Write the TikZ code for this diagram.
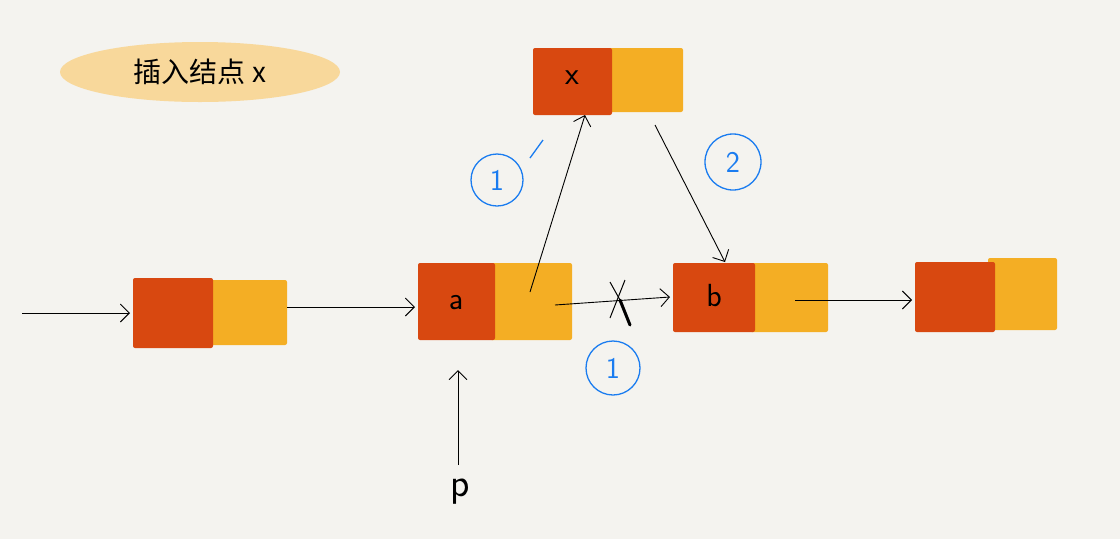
\documentclass[tikz,border=0pt]{standalone}
\usepackage{fontspec}
\usetikzlibrary{arrows.meta}
\newfontfamily\cjk{Noto Sans CJK SC}
\begin{document}
\begin{tikzpicture}[x=1pt,y=-1pt,
 red/.style={fill=redc,draw=none,rounded corners=2pt},
 org/.style={fill=orgc,draw=none,rounded corners=2pt},
 arr/.style={-{Straight Barb[length=9pt]},line width=0.9pt},
 lab/.style={font=\sffamily\fontsize{32}{36}\selectfont},
 blue/.style={draw=bluec,line width=1.3pt,circle,text=bluec,font=\sffamily\fontsize{30}{34}\selectfont}]
\definecolor{redc}{HTML}{D84810}
\definecolor{orgc}{HTML}{F4AE24}
\definecolor{bluec}{HTML}{1A7CF0}
\definecolor{bgc}{HTML}{F4F3EF}
\fill[bgc] (0,0) rectangle (1120,539);
\useasboundingbox (0,0) rectangle (1120,539);
\fill[orgc!55,opacity=0.8] (200,72) ellipse (140 and 30);
\node[font=\cjk\fontsize{28}{32}\selectfont] (title) at (200,72) {插入结点 \textit{x}};
% node1
\fill[org] (208,280) rectangle (287,345);
\fill[red] (133,278) rectangle (213,348);
% node a
\fill[org] (490,263) rectangle (572,340);
\fill[red] (418,263) rectangle (495,340);
\node[lab] (a) at (456,303) {a};
\coordinate (aN) at (530,292);
\coordinate (aE) at (555,305);
% node x
\fill[org] (608,48) rectangle (683,112);
\fill[red] (533,48) rectangle (612,115);
\node[lab] (x) at (572,78) {x};
\coordinate (xS) at (585,115);
\coordinate (xO) at (655,125);
% node b
\fill[org] (750,263) rectangle (828,332);
\fill[red] (673,263) rectangle (755,332);
\node[lab] (b) at (714,296) {b};
\coordinate (bN) at (725,262);
\coordinate (bW) at (670,297);
% node 4
\fill[org] (988,258) rectangle (1057,330);
\fill[red] (915,262) rectangle (995,332);
% arrows
\coordinate (s0) at (22,313); \coordinate (s1) at (130,313);
\draw[arr] (s0) -- (s1);
\coordinate (o1) at (287,307); \coordinate (a0) at (415,307);
\draw[arr] (o1) -- (a0);
\draw[arr] (aE) -- (bW);
\draw[line width=1pt] (610,282) -- (620,300);
\draw[line width=3pt,line cap=round] (620,300) -- (630,325);
\draw[line width=1pt] (625,280) -- (610,318);
\draw[arr] (aN) -- (xS);
\draw[arr] (xO) -- (bN);
\coordinate (bo) at (795,300); \coordinate (n4) at (912,300);
\draw[arr] (bo) -- (n4);
\coordinate (p0) at (458,465); \coordinate (p1) at (458,370);
\draw[arr] (p0) -- (p1);
\node[font=\sffamily\fontsize{40}{44}\selectfont] (p) at (460,492) {p};
% blue circles
\node[blue,minimum size=52pt] (c1) at (497,180) {1};
\draw[bluec,line width=1.3pt] (530,158) -- (543,140);
\node[blue,minimum size=56pt] (c2) at (733,162) {2};
\node[blue,minimum size=54pt] (c3) at (613,368) {1};
\end{tikzpicture}
\end{document}
